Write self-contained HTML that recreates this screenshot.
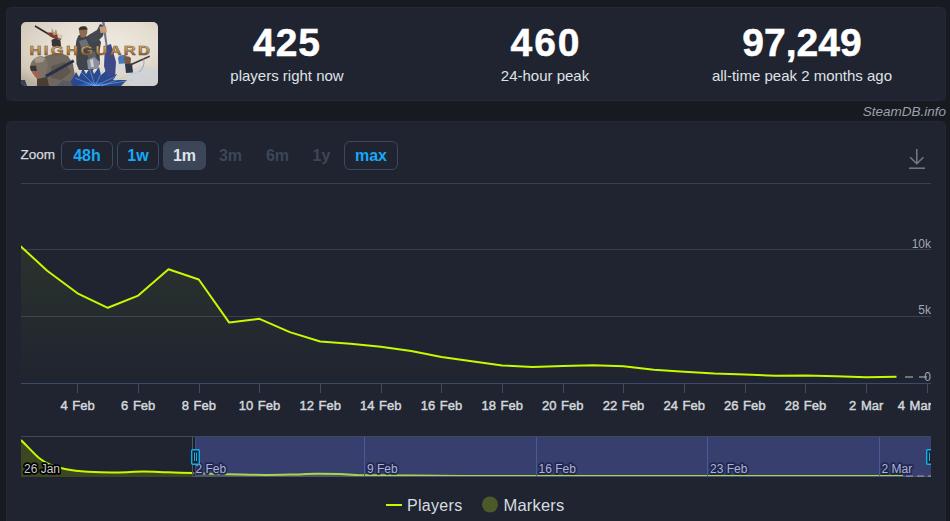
<!DOCTYPE html>
<html><head><meta charset="utf-8">
<style>
html,body{margin:0;padding:0;}
body{width:950px;height:521px;overflow:hidden;background:#171a21;position:relative;font-family:"Liberation Sans",sans-serif;}
.panel{position:absolute;background:#1f2430;border-radius:5px;box-shadow:inset 0 0 0 1px rgba(255,255,255,0.025);}
#top{left:6px;top:7px;width:940px;height:94px;}
#chartp{left:6px;top:121px;width:940px;height:420px;}
.cap{position:absolute;left:15px;top:15px;width:137px;height:64px;border-radius:5px;overflow:hidden;}
.stat{position:absolute;top:0;width:258px;text-align:center;color:#fff;}
.stat .n{position:absolute;left:0;right:0;top:13px;font-size:39px;font-weight:bold;line-height:46px;color:#fff;-webkit-text-stroke:0.5px #fff;}
.stat .l{position:absolute;left:0;right:0;top:60px;font-size:15px;line-height:18px;color:#dfe2e6;}
.brand{position:absolute;right:4px;top:103.6px;font-size:13.5px;font-style:italic;color:#9aa1aa;line-height:16px;}
.zl{position:absolute;left:20.5px;top:147px;font-size:13.5px;color:#d6d9dc;line-height:16px;-webkit-text-stroke:0.25px #d6d9dc;}
.btn{position:absolute;top:141px;height:27px;border:1px solid #3a4a60;border-radius:6px;box-sizing:content-box;font-size:16px;font-weight:bold;line-height:27px;text-align:center;color:#16a9f7;}
.btn.act{background:#3b4659;border-color:#3b4659;color:#dfe3e8;}
.btn.dis{border-color:transparent;color:#3d4757;}
svg{position:absolute;left:0;top:0;}
</style></head><body>
<div class="panel" id="top">
  <div class="cap">
    <svg width="137" height="64" viewBox="0 0 137 64">
      <defs>
        <radialGradient id="cbg" cx="0.6" cy="0.35" r="0.8">
          <stop offset="0" stop-color="#f0ebe2"/>
          <stop offset="0.5" stop-color="#e4ddd0"/>
          <stop offset="0.85" stop-color="#d2c9b9"/>
          <stop offset="1" stop-color="#b8ae9e"/>
        </radialGradient>
        <linearGradient id="gold" x1="0" y1="-9" x2="0" y2="0" gradientUnits="userSpaceOnUse">
          <stop offset="0" stop-color="#d8b27a"/>
          <stop offset="0.55" stop-color="#b98c55"/>
          <stop offset="1" stop-color="#86602f"/>
        </linearGradient>
        <filter id="soft" x="-5%" y="-5%" width="110%" height="110%"><feGaussianBlur stdDeviation="0.45"/></filter>
        <radialGradient id="burst" cx="0.5" cy="0.8" r="0.6">
          <stop offset="0" stop-color="#5a9ae8"/>
          <stop offset="0.5" stop-color="#2a5ab8"/>
          <stop offset="1" stop-color="#1e2e60" stop-opacity="0"/>
        </radialGradient>
      </defs>
      <rect width="137" height="64" fill="url(#cbg)"/>
      <g filter="url(#soft)">
      <!-- bluish light bottom right -->
      <ellipse cx="124" cy="56" rx="18" ry="12" fill="#cfd3d8" opacity="0.8"/>
      <!-- flying character -->
      <path d="M14,4 L29.5,13.2" stroke="#2e2a2c" stroke-width="1.7"/>
      <path d="M26,11 C30,10 33,11 36,12 L41,15 L40,18 L34,17 L29,14.5Z" fill="#7a3e30"/>
      <path d="M31,6 L33,11 L35,7 L36.5,12 L33,13.5 L30.5,10Z" fill="#b89274"/>
      <path d="M36,12 L42,13 L41,17 L37,16Z" fill="#d8c8b2"/>
      <!-- dark helmet figure -->
      <path d="M30.5,18 C32,16.5 37,16.5 39.5,18.5 L40,24.5 L35,25.5 L31,24Z" fill="#34343a"/>
      <!-- dark mass bear body / figures -->
      <path d="M22,36 C28,31 40,30 47,34 L52,42 L54,54 L50,64 L18,64 L20,50Z" fill="#70685f"/><path d="M30,44 L44,40 L50,50 L40,58 L30,56Z" fill="#5e564e"/>
      <!-- bear head -->
      <path d="M12,38 C15,34 21,33 25,36 L27,44 L25,52 L21,57 L16,57 L12,52 L9,47 C9,43 10,40 12,38Z" fill="#7c7268"/>
      <path d="M13,37 C16,34.5 21,34 24,36.5 L22,40 L15,41Z" fill="#a29888"/>
      <path d="M9,44 L15,43.5 L16,49 L10,49Z" fill="#3c3430"/>
      <path d="M13,50 L18,50 L18.5,55 L14,55Z" fill="#b85a4a"/>
      <path d="M16,57 L26,55 L28,64 L16,64Z" fill="#4a3e36"/>
      <!-- bottom-left dark corner -->
      <path d="M0,58 L4,58 L6,64 L0,64Z" fill="#3a4050"/>
      <!-- man body -->
      <path d="M58,13 C55,17 54.5,22 55,30 L55.5,42 L58,48 L72,48 L79,42 L78.5,30 L80,20 L76,15 L68,15 L62,13Z" fill="#40444c"/>
      <path d="M66,14 L76,8 L79,2 L84,4 L82,14 L76,20 L70,20Z" fill="#45484f"/>
      <path d="M58,19 L65,17 L69,25 L61,28Z" fill="#6a707a"/>
      <path d="M66,31 L74,29 L76,37 L68,39Z" fill="#5a5e66"/>
      <path d="M58,8 C58,5 61,4.5 64,5.5 C66,6.5 67,9 66,12 L64,15.5 L60,15.5 C59,13 58,11 58,8Z" fill="#8c6a52"/>
      <path d="M57.5,7.5 C58,4.5 61,3.5 65,4.5 L67,7.5 L59,8Z" fill="#3e322c"/>
      <!-- sword -->
      <path d="M81,0 L83.5,0 L86.5,23 L84.6,23.4Z" fill="#70788a"/>
      <path d="M78.5,5 L85,4 L86,10.5 L79.5,11Z" fill="#c49c7c"/>
      <!-- gun diag -->
      <path d="M24,53 L52,37.5 L53.5,40 L26,55.5Z" fill="#28304a"/>
      <!-- blue robe figure -->
      <path d="M84,24 L90,22 L95,40 L94,56 L87,58 L83,44Z" fill="#3c4a88"/>
      <!-- center bottom navy/blue -->
      <path d="M46,64 L52,56 L55,50 L58,55 L62,46 L65,52 L70,44 L73,52 L78,45 L80,53 L86,48 L86,55 L96,52 L92,58 L106,58 L100,64Z" fill="#2c4a8e"/><path d="M36,64 L42,58 L50,60 L52,64Z" fill="#5a5a64"/>
      <ellipse cx="72" cy="61" rx="22" ry="8" fill="url(#burst)"/>
      <g stroke="#9ccaf6" stroke-width="0.6" opacity="0.75">
        <path d="M74,64 L60,50 M74,64 L68,45 M74,64 L82,48 M74,64 L98,53 M74,64 L112,58 M74,64 L54,56 M80,64 L122,48"/>
      </g>
      <path d="M66,38 L73,35 L79,40 L77,47 L67,47Z" fill="#8a909c"/><path d="M69,38 L72,37 L73,45 L70,45Z" fill="#c8ccd4"/>
      <!-- woman -->
      <path d="M97,36 C98,33 102,32.5 105,33.5 L106,42 L98,43Z" fill="#4a78b6"/>
      <path d="M103,35 C105,33.5 109,34 110,36.5 L109.5,42 L104,42Z" fill="#7a5640"/>
      <path d="M95,42 L104,41.5 L105,48.5 L97,49Z" fill="#d6d8dc"/>
      <path d="M104,42 L111,41.5 L112,50.5 L105,51Z" fill="#2e3444"/>
      <path d="M108,42.5 L128.5,33.5 L129,35 L109,44Z" fill="#3a3c44"/>
      <path d="M122,36 C124,40 123,46 118,50" stroke="#7a8498" stroke-width="0.6" fill="none"/>
      </g>
      <!-- title -->
      <text transform="translate(8.6,33.4) scale(1.32,1)" x="0" y="0" letter-spacing="1.7" font-family="Liberation Sans" font-weight="bold" font-size="12.6" fill="url(#gold)" stroke="#6a4a28" stroke-width="0.45">HIGHGUARD</text>
</svg>
  </div>
  <div class="stat" style="left:152px"><div class="n" style="letter-spacing:1px">425</div><div class="l">players right now</div></div>
  <div class="stat" style="left:410px"><div class="n" style="letter-spacing:2px;text-indent:2px">460</div><div class="l">24-hour peak</div></div>
  <div class="stat" style="left:667px"><div class="n">97,249</div><div class="l">all-time peak 2 months ago</div></div>
</div>
<div class="brand">SteamDB.info</div>
<div class="panel" id="chartp"></div>
<div class="zl">Zoom</div>
<div class="btn" style="left:61px;width:50px">48h</div>
<div class="btn" style="left:117px;width:40px">1w</div>
<div class="btn act" style="left:163px;width:41px">1m</div>
<div class="btn dis" style="left:207px;width:45px">3m</div>
<div class="btn dis" style="left:254px;width:45px">6m</div>
<div class="btn dis" style="left:298px;width:45px">1y</div>
<div class="btn" style="left:344px;width:52px">max</div>
<svg width="950" height="521" viewBox="0 0 950 521">
  <defs>
    <linearGradient id="af" x1="0" y1="183" x2="0" y2="383" gradientUnits="userSpaceOnUse">
      <stop offset="0" stop-color="#c8ff00" stop-opacity="0.10"/>
      <stop offset="1" stop-color="#c8ff00" stop-opacity="0.0"/>
    </linearGradient>
    <clipPath id="pc"><rect x="21" y="150" width="910" height="240"/></clipPath>
    <clipPath id="hc"><rect x="0" y="430" width="931" height="60"/></clipPath>
    <clipPath id="xc"><rect x="0" y="390" width="931" height="30"/></clipPath>
    <clipPath id="nc"><rect x="21" y="436" width="910" height="41"/></clipPath>
  </defs>
  <!-- download icon -->
  <g stroke="#777b81" stroke-width="1.5" fill="none">
    <path d="M916.8,149 V163.5 M910.2,157.2 L916.8,163.8 L923.4,157.2"/>
    <path d="M909,168.2 H925"/>
  </g>
  <!-- gridlines -->
  <g stroke="#3a404e" stroke-width="1">
    <path d="M21,183.5 H931 M21,249.5 H931 M21,316.5 H931"/>
  </g>
  <!-- y labels -->
  <g font-size="12" fill="#a3a8b0" text-anchor="end">
    <text x="931" y="248">10k</text>
    <text x="931" y="314">5k</text>
  </g>
  <!-- series -->
  <g clip-path="url(#pc)">
    <path d="M16.8,242.7 L47.2,270.8 L77.5,293.3 L107.8,307.8 L138.2,295.6 L168.5,269.3 L198.8,279.5 L229.2,322.6 L259.5,318.8 L289.8,332.1 L320.2,341.5 L350.5,343.8 L380.8,346.8 L411.2,351.0 L441.5,357.0 L471.8,361.3 L502.2,365.4 L532.5,367.0 L562.8,366.0 L593.2,365.2 L623.5,366.3 L653.8,369.7 L684.2,371.8 L714.5,373.5 L744.8,374.5 L775.2,375.8 L805.5,375.6 L835.8,376.3 L866.2,377.3 L896.5,376.8 L896.5,383.5 L16.8,383.5 Z" fill="url(#af)"/>
    <path d="M16.8,242.7 L47.2,270.8 L77.5,293.3 L107.8,307.8 L138.2,295.6 L168.5,269.3 L198.8,279.5 L229.2,322.6 L259.5,318.8 L289.8,332.1 L320.2,341.5 L350.5,343.8 L380.8,346.8 L411.2,351.0 L441.5,357.0 L471.8,361.3 L502.2,365.4 L532.5,367.0 L562.8,366.0 L593.2,365.2 L623.5,366.3 L653.8,369.7 L684.2,371.8 L714.5,373.5 L744.8,374.5 L775.2,375.8 L805.5,375.6 L835.8,376.3 L866.2,377.3 L896.5,376.8" fill="none" stroke="#c5fa00" stroke-width="2" stroke-linejoin="round"/>
  </g>
  <!-- last value dashed -->
  <path d="M905,377 H931" stroke="#8a8c8e" stroke-width="1.5" stroke-dasharray="8,6"/>
  <text x="931" y="381" font-size="12" fill="#a3a8b0" text-anchor="end">0</text>
  <!-- x axis -->
  <g stroke="#3b4d66" stroke-width="1">
    <path d="M21,383.5 H931"/>
    <path d="M77.5,383 V393" /><path d="M138.5,383 V393" /><path d="M199.5,383 V393" /><path d="M259.5,383 V393" /><path d="M320.5,383 V393" /><path d="M381.5,383 V393" /><path d="M441.5,383 V393" /><path d="M502.5,383 V393" /><path d="M563.5,383 V393" /><path d="M623.5,383 V393" /><path d="M684.5,383 V393" /><path d="M745.5,383 V393" /><path d="M805.5,383 V393" /><path d="M866.5,383 V393" /><path d="M927.5,383 V393" />
  </g>
  <g font-size="13" fill="#d3d7dc" stroke="#d3d7dc" stroke-width="0.45" word-spacing="1" clip-path="url(#xc)"><text x="77.5" y="410" text-anchor="middle">4 Feb</text><text x="138.2" y="410" text-anchor="middle">6 Feb</text><text x="198.8" y="410" text-anchor="middle">8 Feb</text><text x="259.5" y="410" text-anchor="middle">10 Feb</text><text x="320.2" y="410" text-anchor="middle">12 Feb</text><text x="380.8" y="410" text-anchor="middle">14 Feb</text><text x="441.5" y="410" text-anchor="middle">16 Feb</text><text x="502.2" y="410" text-anchor="middle">18 Feb</text><text x="562.8" y="410" text-anchor="middle">20 Feb</text><text x="623.5" y="410" text-anchor="middle">22 Feb</text><text x="684.2" y="410" text-anchor="middle">24 Feb</text><text x="744.8" y="410" text-anchor="middle">26 Feb</text><text x="805.5" y="410" text-anchor="middle">28 Feb</text><text x="866.2" y="410" text-anchor="middle">2 Mar</text><text x="932" y="410" text-anchor="end">4 Mar</text></g>
  <!-- navigator -->
  <g clip-path="url(#nc)">
    <path d="M21.0,440.0 C22.2,441.3 25.5,444.6 28.5,447.6 C31.5,450.6 35.5,455.2 39.0,458.0 C42.5,460.8 46.1,462.8 49.6,464.4 C53.1,466.0 56.6,466.9 60.1,467.8 C63.6,468.7 67.1,469.4 70.6,470.0 C74.1,470.6 77.2,471.0 81.2,471.3 C85.2,471.6 88.2,471.8 94.5,472.0 C100.8,472.2 110.8,472.5 119.0,472.4 C127.2,472.3 135.3,471.6 143.5,471.6 C151.7,471.6 159.8,472.1 168.0,472.3 C176.2,472.5 184.3,472.8 192.5,473.1 C200.7,473.3 208.8,473.6 217.0,473.9 C225.2,474.1 233.3,474.3 241.5,474.5 C249.7,474.7 257.8,474.9 266.0,474.9 C274.2,474.9 282.3,474.7 290.5,474.5 C298.7,474.4 306.8,473.9 315.0,473.8 C323.2,473.7 331.4,473.8 339.5,474.1 C347.7,474.3 355.9,475.1 364.0,475.3 C372.2,475.5 380.4,475.1 388.5,475.2 C396.7,475.2 404.9,475.5 413.0,475.6 C421.2,475.7 429.4,475.8 437.5,475.8 C445.7,475.9 453.9,475.9 462.0,475.9 C470.2,475.9 478.4,476.0 486.5,476.0 C494.7,476.0 502.9,476.0 511.0,476.0 C519.2,476.0 527.4,476.0 535.5,476.0 C543.7,476.0 551.9,476.0 560.0,476.0 C568.2,476.0 576.4,476.0 584.5,476.0 C592.7,476.0 600.9,476.0 609.1,476.0 C617.2,476.0 625.4,476.0 633.6,476.0 C641.7,476.0 649.9,476.0 658.1,476.0 C666.2,476.0 674.4,476.0 682.6,476.0 C690.7,476.0 698.9,476.0 707.1,476.0 C715.2,476.0 723.4,476.0 731.6,476.0 C739.7,476.0 747.9,476.0 756.1,476.0 C764.2,476.0 772.4,476.0 780.6,476.0 C788.7,476.0 796.9,476.0 805.1,476.0 C813.2,476.0 821.4,476.0 829.6,476.0 C837.7,476.0 845.9,476.0 854.1,476.0 C862.2,476.0 870.4,476.0 878.6,476.0 C886.8,476.0 899.0,476.0 903.1,476.0 L903.1,477.0 L21,477.0 Z" fill="#3c4722"/>
    <path d="M21.0,440.0 C22.2,441.3 25.5,444.6 28.5,447.6 C31.5,450.6 35.5,455.2 39.0,458.0 C42.5,460.8 46.1,462.8 49.6,464.4 C53.1,466.0 56.6,466.9 60.1,467.8 C63.6,468.7 67.1,469.4 70.6,470.0 C74.1,470.6 77.2,471.0 81.2,471.3 C85.2,471.6 88.2,471.8 94.5,472.0 C100.8,472.2 110.8,472.5 119.0,472.4 C127.2,472.3 135.3,471.6 143.5,471.6 C151.7,471.6 159.8,472.1 168.0,472.3 C176.2,472.5 184.3,472.8 192.5,473.1 C200.7,473.3 208.8,473.6 217.0,473.9 C225.2,474.1 233.3,474.3 241.5,474.5 C249.7,474.7 257.8,474.9 266.0,474.9 C274.2,474.9 282.3,474.7 290.5,474.5 C298.7,474.4 306.8,473.9 315.0,473.8 C323.2,473.7 331.4,473.8 339.5,474.1 C347.7,474.3 355.9,475.1 364.0,475.3 C372.2,475.5 380.4,475.1 388.5,475.2 C396.7,475.2 404.9,475.5 413.0,475.6 C421.2,475.7 429.4,475.8 437.5,475.8 C445.7,475.9 453.9,475.9 462.0,475.9 C470.2,475.9 478.4,476.0 486.5,476.0 C494.7,476.0 502.9,476.0 511.0,476.0 C519.2,476.0 527.4,476.0 535.5,476.0 C543.7,476.0 551.9,476.0 560.0,476.0 C568.2,476.0 576.4,476.0 584.5,476.0 C592.7,476.0 600.9,476.0 609.1,476.0 C617.2,476.0 625.4,476.0 633.6,476.0 C641.7,476.0 649.9,476.0 658.1,476.0 C666.2,476.0 674.4,476.0 682.6,476.0 C690.7,476.0 698.9,476.0 707.1,476.0 C715.2,476.0 723.4,476.0 731.6,476.0 C739.7,476.0 747.9,476.0 756.1,476.0 C764.2,476.0 772.4,476.0 780.6,476.0 C788.7,476.0 796.9,476.0 805.1,476.0 C813.2,476.0 821.4,476.0 829.6,476.0 C837.7,476.0 845.9,476.0 854.1,476.0 C862.2,476.0 870.4,476.0 878.6,476.0 C886.8,476.0 899.0,476.0 903.1,476.0" fill="none" stroke="#c5fa00" stroke-width="2"/>
  </g>
  <g font-size="12" fill="#c6c8cc" stroke="#000" stroke-width="3.4" paint-order="stroke" stroke-linejoin="round"><text x="24.0" y="473">26 Jan</text><text x="195.5" y="473">2 Feb</text><text x="367.0" y="473">9 Feb</text><text x="538.6" y="473">16 Feb</text><text x="710.1" y="473">23 Feb</text><text x="881.6" y="473">2 Mar</text></g>
  <path d="M194,437 V476.5" stroke="#181b23" stroke-width="1"/>
  <path d="M195.5,437 V476.5" stroke="#2e3646" stroke-width="1"/>
  <rect x="195" y="437" width="736" height="40" fill="rgb(110,125,255)" fill-opacity="0.3"/>
  <g stroke="#4a5a94" stroke-width="1"><path d="M364.5,437 V476" /><path d="M536.5,437 V476" /><path d="M707.5,437 V476" /><path d="M879.5,437 V476" /></g>
  <path d="M21,436.5 H931" stroke="#3d4a5c" stroke-width="1"/>
  <path d="M192.5,436.5 V476.5 H931" stroke="#4a5868" stroke-width="1" fill="none"/>
  <path d="M906,476.2 H931" stroke="#8f93a6" stroke-width="1.3" stroke-dasharray="7,4"/>
  <!-- handles -->
  <g clip-path="url(#hc)">
  <g stroke="#0fb0f0" stroke-width="1.4" fill="#1c2029">
    <rect x="191.7" y="449.7" width="7.6" height="14.6" rx="1"/>
    <rect x="926.7" y="449.7" width="7.6" height="14.6" rx="1"/>
  </g>
  <g stroke="#0fb0f0" stroke-width="1">
    <path d="M194.5,452.5 V461 M196.5,452.5 V461 M929.5,452.5 V461 M931.5,452.5 V461"/>
  </g>
  </g>
  <!-- legend -->
  <path d="M386,505 H402" stroke="#c5fa00" stroke-width="2"/>
  <text x="407" y="511" font-size="16" letter-spacing="0.3" fill="#d8dce0">Players</text>
  <circle cx="490" cy="504.5" r="8" fill="#4b5a2a"/>
  <text x="503.5" y="511" font-size="16.5" letter-spacing="0.2" fill="#d8dce0">Markers</text>
</svg>
</body></html>
